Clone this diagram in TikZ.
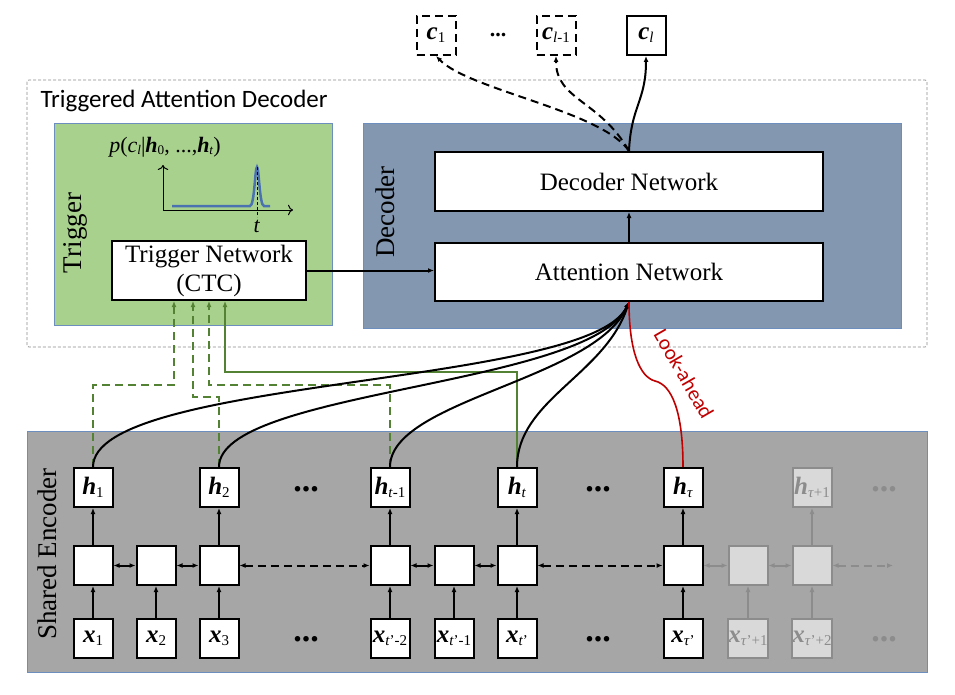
\documentclass[tikz,border=0pt]{standalone}
\usepackage{fontspec}
\setmainfont{Liberation Serif}
\newfontfamily\calib{Carlito}
\usetikzlibrary{arrows.meta}

\definecolor{trigGreen}{HTML}{A9D18E}
\definecolor{decBlue}{HTML}{8497B0}
\definecolor{encGray}{HTML}{A6A6A6}
\definecolor{frameBlue}{HTML}{6C8EBF}
\definecolor{ctcGreen}{HTML}{548235}
\definecolor{lookRed}{HTML}{C00000}
\definecolor{curveBlue}{HTML}{4A72B0}
\definecolor{ghostFill}{HTML}{D9D9D9}
\definecolor{ghostLine}{HTML}{8C8C8C}

\newcommand{\lo}[1]{\raisebox{-0.25ex}{\scalebox{0.6}{#1}}}
\newcommand{\vh}[1]{\textbf{\textit{h}}\lo{#1}}
\newcommand{\vx}[1]{\textbf{\textit{x}}\lo{#1}}
\newcommand{\vc}[1]{\textbf{\textit{c}}\lo{#1}}

\tikzset{
  cell/.style={draw,line width=2pt,fill=white,minimum size=39pt,inner sep=0pt,font=\fontsize{25}{28}\selectfont},
  ghost/.style={cell,draw=ghostLine,fill=ghostFill,text=ghostLine},
  netbox/.style={draw,line width=2pt,fill=white,align=center,inner sep=0pt,font=\fontsize{25}{29}\selectfont},
  region/.style={draw=frameBlue,line width=0.8pt},
  regionlabel/.style={rotate=90,font=\fontsize{27}{30}\selectfont},
  dots/.style={anchor=base,font=\fontsize{34}{34}\selectfont\bfseries},
  tip/.style={line width=2pt,-{Latex[length=6pt,width=5pt]}},
  dtip/.style={line width=2pt,{Latex[length=6pt,width=5pt]}-{Latex[length=6pt,width=5pt]}},
  gtip/.style={ctcGreen,line width=1.8pt,-{Latex[length=6pt,width=5pt]}},
  gdash/.style={gtip,dash pattern=on 8pt off 5pt},
  bdash/.style={dash pattern=on 8pt off 5pt}
}

\begin{document}
\begin{tikzpicture}[x=1pt,y=-1pt]

\useasboundingbox (0,0) rectangle (955,695);

% regions
\draw[ghostLine,line width=0.8pt,dash pattern=on 3pt off 2pt,rounded corners=2pt] (27,80) rectangle (927,347);
\filldraw[region,fill=trigGreen] (54,123) rectangle (332,325);
\filldraw[region,fill=decBlue] (363,123) rectangle (901,328);
\filldraw[region,fill=encGray] (27,431) rectangle (927,672);

\node[anchor=base west,font=\calib\fontsize{25}{28}\selectfont] (TADLBL) at (37,108) {Triggered Attention Decoder};
\node[regionlabel] (TRIGLBL) at (75,233) {Trigger};
\node[regionlabel] (DECLBL) at (385,212) {Decoder};
\node[regionlabel] (ENCLBL) at (47,554) {Shared Encoder};

                    % outputs
                    \node[cell,bdash] (C1) at (436,35.5) {\vc{1}};
                    \node[anchor=base,font=\fontsize{22}{22}\selectfont\bfseries] (CDOTS) at (498,37) {...};
                    \node[cell,bdash] (CL1) at (556,35.5) {\vc{\textit{l}-1}};
                    \node[cell] (CL) at (646,35.5) {\vc{\textit{l}}};

                    % decoder
                    \node[netbox,minimum width=388pt,minimum height=59pt] (DEC) at (629,181.5) {Decoder Network};
                    \node[netbox,minimum width=388pt,minimum height=58pt] (ATT) at (629,272) {Attention Network};
                    \path [tip] (ATT) edge (DEC);

                    % trigger
                    \node[netbox,minimum width=194pt,minimum height=59pt] (TRIG) at (209,270.5) {Trigger Network\\(CTC)};
                    \path [tip] (TRIG.east) edge (TRIG.east -| ATT.west);

                    % trigger plot
                    \coordinate (ORIG) at (163,210);
                    \draw[line width=1pt,-{To[length=5pt]}] (ORIG) -- ++(0,-45);
                    \draw[line width=1pt,-{To[length=5pt]}] (ORIG) -- ++(130,0);
                    \draw[curveBlue,line width=2.5pt] (172,206) -- (250,206) .. controls (254.5,206) and (255,167) .. (257,167) .. controls (259,167) and (259.5,206) .. (264,206) -- (270,206);
                    \draw[line width=0.8pt,densely dashed] (257,167) -- (257,217);
                    \node[font=\fontsize{22}{24}\selectfont] (PLBL) at (165,147) {\textit{p}(\textit{c}\lo{\textit{l}}|\vh{0}, ...,\vh{\textit{t}})};
                    \node[font=\fontsize{22}{24}\selectfont] (TLBL) at (257,226) {\textit{t}};

%%%%%%%%%%%%%%%%%%%%%%%%%%%%%%%%%%%%%%%%%%%%%%%%%%%%%%%%%%%%%%%%%%%%%%%%%%%%%%%%%%%%

                    % encoder states
                    \node[cell] (H1) at (93,487.5) {\vh{1}};
                    \node[cell] (H2) at (219,487.5) {\vh{2}};
                    \node[dots] (HDOTS1) at (306,491) {...};
                    \node[cell] (HT1) at (390,487.5) {\vh{\textit{t}-1}};
                    \node[cell] (HT) at (517,487.5) {\vh{\textit{t}}};
                    \node[dots] (HDOTS2) at (598,491) {...};
                    \node[cell] (HTAU) at (683,487.5) {\vh{\textit{τ}}};
                    \node[ghost] (HTAU1) at (812,487.5) {\vh{\textit{τ}+1}};
                    \node[dots,text=ghostLine] (HDOTS3) at (884,491) {...};

                    % encoder cells
                    \node[cell] (M1) at (93,565.5) {};
                    \node[cell] (M2) at (156,565.5) {};
                    \node[cell] (M3) at (219,565.5) {};
                    \node[cell] (M4) at (390,565.5) {};
                    \node[cell] (M5) at (454,565.5) {};
                    \node[cell] (M6) at (517,565.5) {};
                    \node[cell] (M7) at (683,565.5) {};
                    \node[ghost] (M8) at (748,565.5) {};
                    \node[ghost] (M9) at (812,565.5) {};
                    \coordinate (MEND) at (893,565.5);

                    % inputs
                    \node[cell] (X1) at (93,638.5) {\vx{1}};
                    \node[cell] (X2) at (156,638.5) {\vx{2}};
                    \node[cell] (X3) at (219,638.5) {\vx{3}};
                    \node[dots] (XDOTS1) at (306,641) {...};
                    \node[cell] (X4) at (390,638.5) {\vx{\textit{t}'-2}};
                    \node[cell] (X5) at (454,638.5) {\vx{\textit{t}'-1}};
                    \node[cell] (X6) at (517,638.5) {\vx{\textit{t}'}};
                    \node[dots] (XDOTS2) at (598,641) {...};
                    \node[cell] (X7) at (683,638.5) {\vx{\textit{τ}'}};
                    \node[ghost] (X8) at (748,638.5) {\vx{\textit{τ}'+1}};
                    \node[ghost] (X9) at (812,638.5) {\vx{\textit{τ}'+2}};
                    \node[dots,text=ghostLine] (XDOTS3) at (884,641) {...};

                    % encoder arrows
                    \path [tip] (X1) edge (M1) (X2) edge (M2) (X3) edge (M3) (X4) edge (M4)
                                (X5) edge (M5) (X6) edge (M6) (X7) edge (M7);
                    \path [tip] (M1) edge (H1) (M3) edge (H2) (M4) edge (HT1) (M6) edge (HT) (M7) edge (HTAU);
                    \path [dtip] (M1) edge (M2) (M2) edge (M3) (M4) edge (M5) (M5) edge (M6);
                    \path [dtip,bdash] (M3) edge (M4) (M6) edge (M7);
                    \path [tip,ghostLine] (X8) edge (M8) (X9) edge (M9) (M9) edge (HTAU1);
                    \path [dtip,ghostLine] (M7) edge (M8) (M8) edge (M9);
                    \path [dtip,ghostLine,bdash] (M9) edge (MEND);

%%%%%%%%%%%%%%%%%%%%%%%%%%%%%%%%%%%%%%%%%%%%%%%%%%%%%%%%%%%%%%%%%%%%%%%%%%%%%%%%%%%%

                    % trigger inputs
                    \draw[gdash] (H1.north) -- ++(0,-82) -| ([xshift=-35pt]TRIG.south);
                    \draw[gdash] (H2.north) -- ++(0,-70) -| ([xshift=-16pt]TRIG.south);
                    \draw[gdash] (HT1.north) -- ++(0,-82) -| (TRIG.south);
                    \draw[gtip] (HT.north) -- ++(0,-95) -| ([xshift=16pt]TRIG.south);

                    % attention inputs
                    \draw[tip] (H1.north) .. controls +(0,-90) and +(-40,85) .. (ATT.south);
                    \draw[tip] (H2.north) .. controls +(0,-77) and +(-40,85) .. (ATT.south);
                    \draw[tip] (HT1.north) .. controls +(0,-67) and +(-34,78) .. (ATT.south);
                    \draw[tip] (HT.north) .. controls +(0,-67) and +(-24,73) .. (ATT.south);

                    % look-ahead
                    \coordinate (LA) at (655,381);
                    \draw[lookRed,line width=1.6pt] (HTAU.north) .. controls +(0,-55) and +(17,4) .. (LA) .. controls +(-15,-4) and +(0,50) .. (ATT.south);
                    \node[rotate=-60,text=lookRed,font=\calib\fontsize{21}{24}\selectfont] (LAHEAD) at (684,374) {Look-ahead};

                    % outputs
                    \draw[tip] (DEC.north) .. controls +(2,-45) and +(0,45) .. (CL.south);
                    \draw[tip,bdash] (DEC.north) .. controls +(-27,-40) and +(33,34) .. (C1.south);
                    \draw[tip,bdash] (DEC.north) .. controls +(-29,-51) and +(0,44) .. (CL1.south);

\end{tikzpicture}
\end{document}
